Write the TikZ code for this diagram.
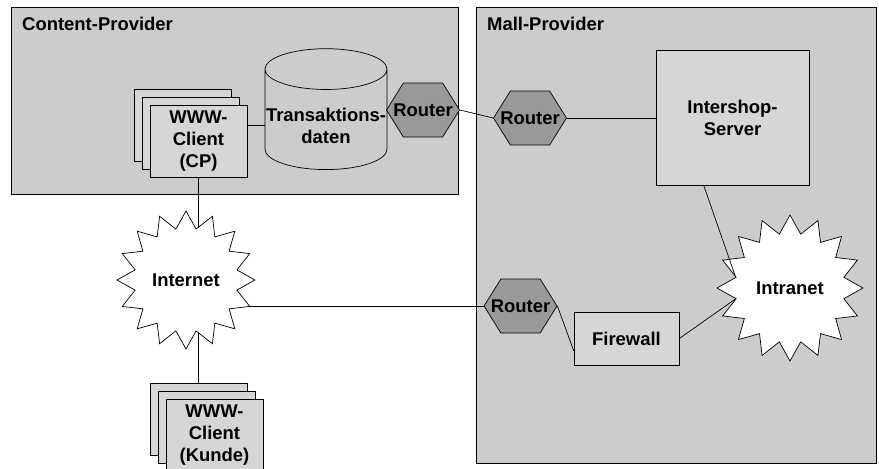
\documentclass[tikz,border=0pt]{standalone}
\usepackage{fontspec}
\setmainfont{Liberation Sans}
\usetikzlibrary{
  shapes.geometric,      % cylinder, star
  shapes.symbols         % signal (router)
}
\definecolor{areagray}{RGB}{204,204,204}
\definecolor{boxgray}{RGB}{214,214,214}
\definecolor{routergray}{RGB}{153,153,153}
\pgfdeclarelayer{areas}
\pgfdeclarelayer{links}
\pgfsetlayers{areas,links,main}

\begin{document}
\begin{tikzpicture}[x=0.02cm, y=-0.02cm,
    font=\fontsize{10.5}{12.5}\selectfont\bfseries,
    line width=0.7pt,
    area/.style={draw, fill=areagray},
    client/.style={draw, fill=boxgray, minimum width=1.94cm, minimum height=1.44cm, inner sep=0pt, align=center},
    server/.style={draw, fill=boxgray, inner sep=0pt, align=center},
    router/.style={signal, signal to=east and west, signal pointer angle=116, draw, fill=routergray,
                   minimum width=1.46cm, minimum height=1.08cm, inner sep=0pt},
    netcloud/.style={star, star points=16, star point ratio=1.33, draw, fill=white, inner sep=0pt}]
    \useasboundingbox (0,0) rectangle (879,468);

    % provider areas
    \begin{pgfonlayer}{areas}
        \draw[area] (11,7) rectangle (458,194);
        \draw[area] (476,7) rectangle (876,463);
    \end{pgfonlayer}
    \node[anchor=west] (cptitle) at (16,24) {Content-Provider};
    \node[anchor=west] (mptitle) at (481,24) {Mall-Provider};

    % content provider
    \node[client] (cpback) at (182.5,125) {};
    \node[client] (cpmid) at (190.5,133) {};
    \node[client] (cpfront) at (198.5,141) {WWW-\\Client\\(CP)};
    \node[cylinder, shape border rotate=90, aspect=0.34, draw, fill=areagray,
          minimum width=2.44cm, minimum height=2.34cm, inner xsep=0pt, align=center]
          (trans) at (326,119.5) {\rule{0pt}{0.51cm}Transaktions-\\daten};
    \node[router] (rcp) at (423,110) {\makebox[0pt]{Router}};

    % mall provider
    \node[router] (rmp) at (530,118) {\makebox[0pt]{Router}};
    \node[server, minimum width=3.06cm, minimum height=2.7cm] (shop) at (732.5,117.5) {Intershop-\\Server};
    \node[router] (rfw) at (520.5,306) {\makebox[0pt]{Router}};
    \node[server, minimum width=2.1cm, minimum height=1.06cm] (firewall) at (626.5,338.5) {Firewall};
    \node[netcloud, minimum size=2.92cm] (intranet) at (790,288) {Intranet};

    % internet and customers
    \node[netcloud, minimum size=2.76cm] (internet) at (186,280) {Internet};
    \node[client] (kback) at (198.5,419) {};
    \node[client] (kmid) at (206.5,427) {};
    \node[client] (kfront) at (214.5,435) {WWW-\\Client\\(Kunde)};

    % links hidden behind the shapes
    \begin{pgfonlayer}{links}
        \draw (cpfront.18) -- (cpfront.18 -| trans.center);
        \draw (cpfront.south) -- (cpfront.south |- internet.center);
        \draw (kback.north) -- (kback.north |- internet.center);
        \draw (rfw.west) -- (rfw.west -| internet.center);
    \end{pgfonlayer}
    \draw (rcp.east) -- (rmp.west);
    \draw (rmp.east) -- (rmp.east -| shop.west);
    \draw (shop.-113) -- (intranet.inner point 4);
    \draw (firewall.east) -- (intranet.inner point 5);
    \draw (rfw.east) -- (firewall.193);
\end{tikzpicture}
\end{document}
